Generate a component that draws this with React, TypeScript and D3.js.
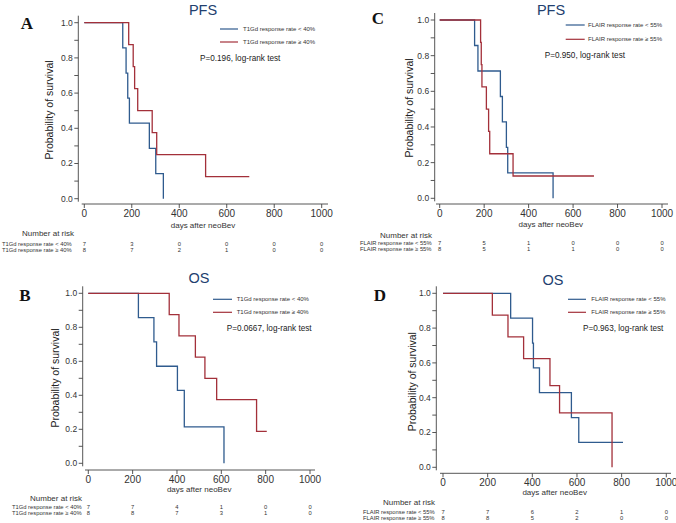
import React from "react";
import * as d3 from "d3";

// ---------- data ----------
const xTicks = [0, 200, 400, 600, 800, 1000];
const yTicksMajor = [0, 0.2, 0.4, 0.6, 0.8, 1.0];
const yTicksMinor = [0.1, 0.3, 0.5, 0.7, 0.9];

const t1LowLabel = "T1Gd response rate < 40%";
const t1HighLabel = "T1Gd response rate \u2265 40%";
const flLowLabel = "FLAIR response rate < 55%";
const flHighLabel = "FLAIR response rate \u2265 55%";

// Panel A: PFS by T1Gd
const aBlueTimes = [0, 162, 176, 183, 190, 274, 301, 333];
const aBlueSurv = [1, 0.857, 0.714, 0.571, 0.429, 0.286, 0.143, 0];
const aRedTimes = [0, 187, 206, 212, 225, 286, 305, 511, 695];
const aRedSurv = [1, 0.875, 0.75, 0.625, 0.5, 0.375, 0.25, 0.125, 0.125];
const aRiskBlue = [7, 3, 0, 0, 0, 0];
const aRiskRed = [8, 7, 2, 1, 0, 0];

// Panel C: PFS by FLAIR
const cBlueTimes = [0, 157, 172, 273, 282, 300, 306, 510];
const cBlueSurv = [1, 0.857, 0.714, 0.571, 0.429, 0.286, 0.143, 0];
const cRedTimes = [0, 184, 187, 190, 210, 220, 225, 330, 694];
const cRedSurv = [1, 0.875, 0.75, 0.625, 0.5, 0.375, 0.25, 0.125, 0.125];
const cRiskBlue = [7, 5, 1, 0, 0, 0];
const cRiskRed = [8, 5, 1, 1, 0, 0];

// Panel B: OS by T1Gd
const bBlueTimes = [0, 226, 296, 308, 402, 433, 612];
const bBlueSurv = [1, 0.857, 0.714, 0.571, 0.429, 0.214, 0];
const bRedTimes = [0, 365, 409, 483, 526, 579, 759, 805];
const bRedSurv = [1, 0.875, 0.75, 0.625, 0.5, 0.375, 0.1875, 0.1875];
const bRiskBlue = [7, 7, 4, 1, 0, 0];
const bRiskRed = [8, 8, 7, 3, 1, 0];

// Panel D: OS by FLAIR
const dBlueTimes = [0, 303, 401, 405, 432, 575, 608, 806];
const dBlueSurv = [1, 0.857, 0.714, 0.571, 0.429, 0.286, 0.143, 0.143];
const dRedTimes = [0, 221, 291, 361, 479, 522, 757];
const dRedSurv = [1, 0.875, 0.75, 0.625, 0.469, 0.3125, 0];
const dRiskBlue = [7, 7, 6, 2, 1, 0];
const dRiskRed = [8, 8, 5, 2, 0, 0];

// ---------- styles ----------
const BLUE = "#2f5b8e";
const RED = "#a3303a";
const TITLE = "#22406f";
const TXT = "#333";
const SANS = "'Liberation Sans', Arial, sans-serif";
const SERIF = "'Liberation Serif', 'Times New Roman', serif";

type Layout = {
  letter: string; title: string; pText: string;
  x0: number; x1: number; y1: number; y0: number;
  yAxisX: number; xAxisY: number; xAxisL: number; xAxisR: number;
  titleX: number; titleY: number; letterX: number; letterY: number;
  legX0: number; legX1: number; legY: number[]; legTextX: number;
  pX: number; pY: number; yTitleX: number; yTitleY: number;
  tickY: number; xLabelY: number; narX: number; narY: number;
  rowY: number[]; rowLabelX: number;
};

type Series = { times: number[]; surv: number[]; risk: number[]; label: string; color: string };

function Panel({ L, s }: { L: Layout; s: Series[] }) {
  const x = d3.scaleLinear().domain([0, 1000]).range([L.x0, L.x1]);
  const y = d3.scaleLinear().domain([0, 1]).range([L.y0, L.y1]);
  const line = d3
    .line<[number, number]>()
    .x((d) => x(d[0]))
    .y((d) => y(d[1]))
    .curve(d3.curveStepAfter);
  return (
    <g>
      <text x={L.titleX} y={L.titleY} textAnchor="middle" fontFamily={SANS} fontSize={14.5} fill={TITLE}>
        {L.title}
      </text>
      <text x={L.letterX} y={L.letterY} textAnchor="middle" fontFamily={SERIF} fontWeight="bold" fontSize={17} fill="#111">
        {L.letter}
      </text>
      {/* y axis */}
      <line x1={L.yAxisX} x2={L.yAxisX} y1={L.y1 - 7} y2={L.y0 + 3} stroke="#444" strokeWidth={0.9} />
      {yTicksMajor.map((t) => (
        <g key={"ym" + t}>
          <line x1={L.yAxisX - 4} x2={L.yAxisX} y1={y(t)} y2={y(t)} stroke="#444" strokeWidth={0.9} />
          <text x={L.yAxisX - 5.5} y={y(t)} dy="0.35em" textAnchor="end" fontFamily={SANS} fontSize={8.5} fill={TXT}>
            {t.toFixed(1)}
          </text>
        </g>
      ))}
      {yTicksMinor.map((t) => (
        <line key={"yn" + t} x1={L.yAxisX - 4} x2={L.yAxisX} y1={y(t)} y2={y(t)} stroke="#444" strokeWidth={0.9} />
      ))}
      <text
        transform={`translate(${L.yTitleX},${L.yTitleY}) rotate(-90)`}
        textAnchor="middle"
        dy="0.35em"
        fontFamily={SANS}
        fontSize={10.5}
        fill="#222"
      >
        Probability of survival
      </text>
      {/* x axis */}
      <line x1={L.xAxisL} x2={L.xAxisR} y1={L.xAxisY} y2={L.xAxisY} stroke="#444" strokeWidth={0.9} />
      {xTicks.map((t) => (
        <g key={"x" + t}>
          <line x1={x(t)} x2={x(t)} y1={L.xAxisY} y2={L.xAxisY + 4} stroke="#444" strokeWidth={0.9} />
          <text x={x(t)} y={L.tickY} dy="0.35em" textAnchor="middle" fontFamily={SANS} fontSize={10} fill={TXT}>
            {t}
          </text>
        </g>
      ))}
      <text x={(x(0) + x(1000)) / 2} y={L.xLabelY} dy="0.35em" textAnchor="middle" fontFamily={SANS} fontSize={8} fill={TXT}>
        days after neoBev
      </text>
      {/* curves */}
      {s.map((ser, i) => (
        <path
          key={"c" + i}
          d={line(ser.times.map((t, j) => [t, ser.surv[j]] as [number, number])) || ""}
          fill="none"
          stroke={ser.color}
          strokeWidth={1.3}
        />
      ))}
      {/* legend */}
      {s.map((ser, i) => (
        <g key={"l" + i}>
          <line x1={L.legX0} x2={L.legX1} y1={L.legY[i]} y2={L.legY[i]} stroke={ser.color} strokeWidth={1.2} />
          <text x={L.legTextX} y={L.legY[i]} dy="0.35em" fontFamily={SANS} fontSize={6} fill={TXT}>
            {ser.label}
          </text>
        </g>
      ))}
      <text x={L.pX} y={L.pY} dy="0.35em" fontFamily={SANS} fontSize={8.2} fill="#222">
        {L.pText}
      </text>
      {/* number at risk */}
      <text x={L.narX} y={L.narY} dy="0.35em" fontFamily={SANS} fontSize={8} fill={TXT}>
        Number at risk
      </text>
      {s.map((ser, i) => (
        <g key={"r" + i}>
          <text x={L.rowLabelX} y={L.rowY[i]} dy="0.35em" fontFamily={SANS} fontSize={5.8} fill={TXT}>
            {ser.label}
          </text>
          {ser.risk.map((n, k) => (
            <text key={k} x={x(xTicks[k])} y={L.rowY[i]} dy="0.35em" textAnchor="middle" fontFamily={SANS} fontSize={5.8} fill={TXT}>
              {n}
            </text>
          ))}
        </g>
      ))}
    </g>
  );
}

const LA: Layout = {
  letter: "A", title: "PFS", pText: "P=0.196, log-rank test",
  x0: 84.3, x1: 321.7, y1: 22.7, y0: 198.7,
  yAxisX: 78.3, xAxisY: 204, xAxisL: 81.7, xAxisR: 328,
  titleX: 203, titleY: 15, letterX: 27, letterY: 29,
  legX0: 220, legX1: 238, legY: [29, 42], legTextX: 243,
  pX: 200, pY: 58, yTitleX: 49, yTitleY: 110,
  tickY: 213, xLabelY: 225, narX: 22, narY: 233,
  rowY: [244.3, 250], rowLabelX: 2,
};
const LC: Layout = {
  letter: "C", title: "PFS", pText: "P=0.950, log-rank test",
  x0: 439.7, x1: 662, y1: 20, y0: 198.3,
  yAxisX: 434.7, xAxisY: 204, xAxisL: 436, xAxisR: 668,
  titleX: 551, titleY: 15, letterX: 378, letterY: 24,
  legX0: 565.7, legX1: 584.7, legY: [25, 39.3], legTextX: 588,
  pX: 544.7, pY: 55, yTitleX: 409, yTitleY: 108,
  tickY: 213, xLabelY: 224, narX: 380, narY: 235,
  rowY: [243, 249], rowLabelX: 360,
};
const LB: Layout = {
  letter: "B", title: "OS", pText: "P=0.0667, log-rank test",
  x0: 88.3, x1: 310, y1: 293.3, y0: 463.3,
  yAxisX: 82.7, xAxisY: 470, xAxisL: 85, xAxisR: 315,
  titleX: 199, titleY: 283, letterX: 25, letterY: 301,
  legX0: 213, legX1: 232, legY: [299.3, 312.3], legTextX: 236.7,
  pX: 226.7, pY: 328.3, yTitleX: 55, yTitleY: 378,
  tickY: 479.3, xLabelY: 489.3, narX: 30, narY: 497.7,
  rowY: [506.7, 513.3], rowLabelX: 12,
};
const LD: Layout = {
  letter: "D", title: "OS", pText: "P=0.963, log-rank test",
  x0: 443, x1: 666.3, y1: 293.3, y0: 467.3,
  yAxisX: 436.3, xAxisY: 473.3, xAxisL: 440, xAxisR: 671,
  titleX: 553, titleY: 285, letterX: 380, letterY: 301,
  legX0: 568, legX1: 586, legY: [299.3, 312.3], legTextX: 591.3,
  pX: 583, pY: 328.3, yTitleX: 412, yTitleY: 381.7,
  tickY: 482.7, xLabelY: 491.7, narX: 383, narY: 501.7,
  rowY: [511.7, 517.7], rowLabelX: 363,
};

export default function App() {
  return (
    <svg
      width={676}
      height={523}
      style={{ position: "absolute", left: 0, top: 0, background: "#fff" }}
    >
      <rect width={676} height={523} fill="#fff" />
      <Panel
        L={LA}
        s={[
          { times: aBlueTimes, surv: aBlueSurv, risk: aRiskBlue, label: t1LowLabel, color: BLUE },
          { times: aRedTimes, surv: aRedSurv, risk: aRiskRed, label: t1HighLabel, color: RED },
        ]}
      />
      <Panel
        L={LC}
        s={[
          { times: cBlueTimes, surv: cBlueSurv, risk: cRiskBlue, label: flLowLabel, color: BLUE },
          { times: cRedTimes, surv: cRedSurv, risk: cRiskRed, label: flHighLabel, color: RED },
        ]}
      />
      <Panel
        L={LB}
        s={[
          { times: bBlueTimes, surv: bBlueSurv, risk: bRiskBlue, label: t1LowLabel, color: BLUE },
          { times: bRedTimes, surv: bRedSurv, risk: bRiskRed, label: t1HighLabel, color: RED },
        ]}
      />
      <Panel
        L={LD}
        s={[
          { times: dBlueTimes, surv: dBlueSurv, risk: dRiskBlue, label: flLowLabel, color: BLUE },
          { times: dRedTimes, surv: dRedSurv, risk: dRiskRed, label: flHighLabel, color: RED },
        ]}
      />
    </svg>
  );
}
